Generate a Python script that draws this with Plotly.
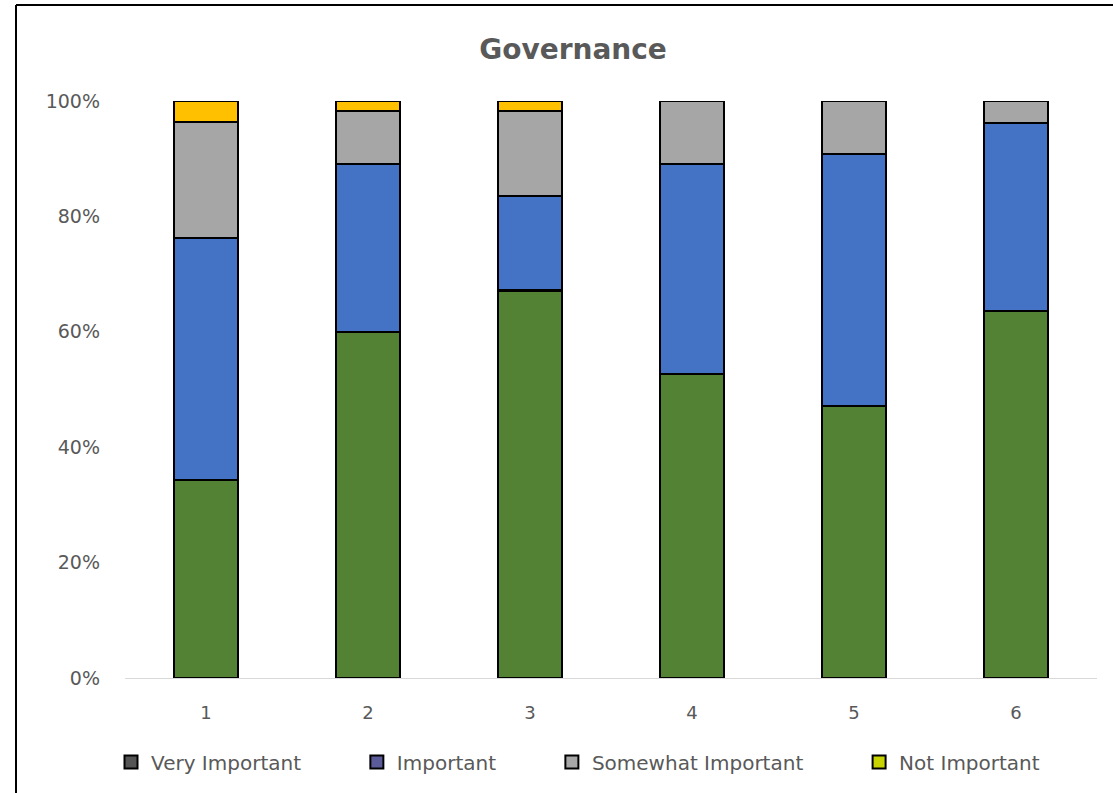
import plotly.graph_objects as go

# Survey results: share of responses per governance item
items = ["1", "2", "3", "4", "5", "6"]
very_important = [34.3, 60.0, 67.2, 52.7, 47.1, 63.6]
important = [42.0, 29.1, 16.3, 36.4, 43.7, 32.6]
somewhat_important = [20.1, 9.2, 14.8, 10.9, 9.2, 3.8]
not_important = [3.6, 1.7, 1.7, 0.0, 0.0, 0.0]

series = [
    ("Very Important", very_important, "#548235", "#555555"),
    ("Important", important, "#4472C4", "#5B5B9A"),
    ("Somewhat Important", somewhat_important, "#A6A6A6", "#A8A8A8"),
    ("Not Important", not_important, "#FFC000", "#C8D400"),
]

fig = go.Figure()
for name, vals, bar_col, key_col in series:
    fig.add_trace(go.Bar(
        x=items, y=vals, name=name, showlegend=False,
        marker=dict(color=bar_col, line=dict(color="black", width=2.5)),
    ))
# legend keys (extra non-breaking spaces widen the gap between entries)
pad = "\u00a0" * 8
for i, (name, vals, bar_col, key_col) in enumerate(series):
    label = name + (pad if i < len(series) - 1 else "")
    fig.add_trace(go.Scatter(
        x=[None], y=[None], mode="markers", name=label,
        marker=dict(symbol="square", size=13, color=key_col,
                    line=dict(color="black", width=2)),
    ))

W, H = 1113, 793
L, R, T, B = 125, 16, 101, 115
pw, ph = W - L - R, H - T - B

fig.update_layout(
    width=W, height=H,
    margin=dict(l=L, r=R, t=T, b=B),
    barmode="stack", bargap=0.605,
    plot_bgcolor="white", paper_bgcolor="white",
    font=dict(family="DejaVu Sans", color="#595959", size=16),
    title=dict(text="<b>Governance</b>", x=573 / W, xanchor="center",
               y=1 - 49 / H, yanchor="middle",
               font=dict(size=28, color="#595959", family="DejaVu Sans")),
    xaxis=dict(type="category", showline=True, linecolor="#D9D9D9", linewidth=1,
               ticks="", ticklabelstandoff=18, tickfont=dict(size=18, color="#595959"),
               showgrid=False),
    yaxis=dict(range=[0, 100], tickvals=[0, 20, 40, 60, 80, 100],
               ticktext=["0%", "20%", "40%", "60%", "80%", "100%"],
               showgrid=False, zeroline=False, showline=False, ticks="",
               ticklabelstandoff=24, tickfont=dict(size=19, color="#595959")),
    legend=dict(orientation="h", x=(578 - L) / pw, xanchor="center",
                y=(678 - 762) / ph, yanchor="middle",
                font=dict(size=20, color="#595959"), itemwidth=30,
                traceorder="normal"),
)

# frame lines along the left and top edges
x_left = (16 - L) / pw
y_top = (H - B - 5) / ph
fig.add_shape(type="line", xref="paper", yref="paper",
              x0=x_left, x1=x_left, y0=y_top, y1=-0.3,
              line=dict(color="black", width=2))
fig.add_shape(type="line", xref="paper", yref="paper",
              x0=x_left, x1=1.05, y0=y_top, y1=y_top,
              line=dict(color="black", width=2))

fig.write_html("out.html")
